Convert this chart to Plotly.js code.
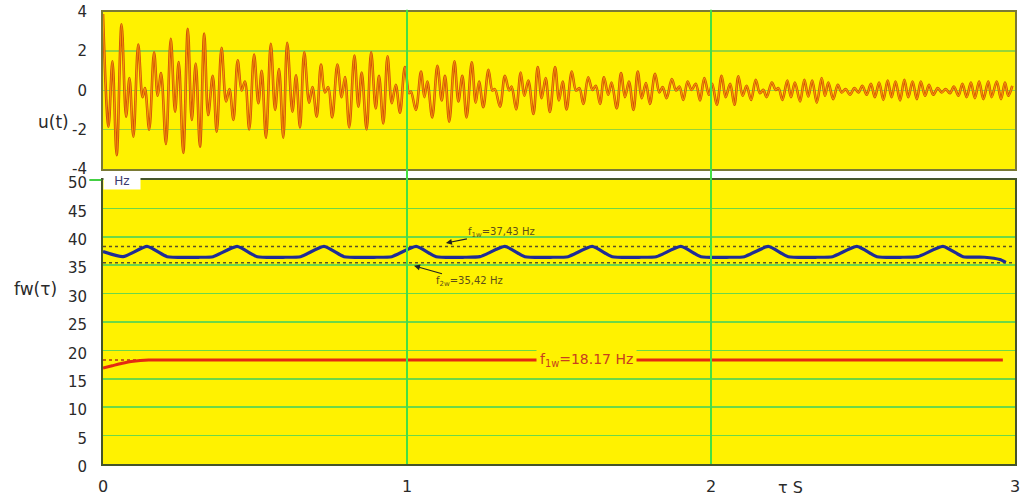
<!DOCTYPE html>
<html>
<head>
<meta charset="utf-8">
<script src="https://cdn.plot.ly/plotly-3.0.1.min.js"></script>
<style>html,body{margin:0;padding:0;background:#fff;}#chart{width:1025px;height:497px;}</style>
</head>
<body>
<div id="chart"></div>
<script>
// ---- data ----
// u(t): successive local extrema of the decaying signal (time in s, value)
const uTime = [
0.000,0.018,0.031,0.045,0.061,0.076,0.087,0.100,0.116,0.130,0.138,0.152,0.168,0.180,0.191,0.207,0.223,0.237,0.249,0.264,
0.279,0.292,0.305,0.319,0.333,0.346,0.361,0.374,0.390,0.405,0.416,0.429,0.443,0.456,0.467,0.481,0.497,0.511,0.522,0.536,
0.552,0.566,0.579,0.593,0.606,0.623,0.635,0.648,0.662,0.678,0.689,0.703,0.717,0.730,
0.741,0.754,0.771,0.785,0.796,0.810,0.827,0.840,0.851,0.867,0.882,0.897,0.908,0.922,0.936,0.950,0.963,0.977,0.993,1.007,
1.013,1.029,1.046,1.057,1.067,1.083,1.100,1.114,1.125,1.139,1.156,1.169,1.182,1.196,1.213,1.226,1.237,1.251,1.268,1.281,
1.289,1.306,1.322,1.336,1.344,1.359,1.374,1.386,1.399,1.416,1.430,1.443,1.456,1.470,
1.487,1.500,1.512,1.525,1.542,1.556,1.567,1.580,1.596,1.610,1.621,1.635,1.648,1.662,1.673,1.690,1.704,1.717,1.730,1.745,
1.759,1.772,1.786,1.799,1.816,1.830,1.841,1.854,1.871,1.885,1.896,1.909,1.923,1.936,1.950,1.964,1.978,1.993,2.004,2.019,
2.035,2.048,2.063,2.077,2.090,2.104,2.117,2.132,2.147,2.161,2.172,2.183,2.200,
2.213,2.222,2.235,2.251,2.263,2.276,2.293,2.307,2.320,2.333,2.348,2.364,2.375,2.386,2.402,2.417,2.430,2.443,2.457,2.472,
2.485,2.498,2.512,2.526,2.539,2.553,2.567,2.581,2.594,2.607,2.622,2.636,2.649,2.663,2.677,2.690,2.704,2.717,2.731,2.746,
2.759,2.772,2.786,2.799,2.814,2.827,2.841,2.855,2.868,2.882,2.896,2.912,2.923,2.940,2.954,2.967,2.978,2.991
];
const uValue = [
3.90,-1.85,1.49,-3.30,3.37,-1.33,0.63,-2.36,2.34,-0.34,0.12,-2.00,1.95,-0.27,0.89,-2.73,2.63,-1.08,1.45,-3.18,
3.15,-1.50,1.37,-2.87,2.90,-1.25,0.75,-2.10,2.17,-0.56,0.07,-1.50,1.54,0.00,0.46,-1.98,1.83,-0.65,1.00,-2.41,
2.38,-0.99,1.09,-2.41,2.43,-1.08,0.77,-1.88,1.95,-0.62,0.17,-1.33,1.32,-0.10,
0.17,-1.37,1.32,-0.34,0.68,-1.88,1.78,-0.82,0.92,-1.98,1.95,-0.91,0.75,-1.68,1.74,-0.65,0.29,-1.13,1.20,-0.14,
-0.05,-0.99,0.97,-0.34,0.46,-1.37,1.26,-0.51,0.75,-1.59,1.49,-0.56,0.75,-1.37,1.44,-0.62,0.46,-0.85,1.06,0.00,
0.07,-0.82,0.75,0.00,0.20,-0.96,0.92,-0.27,0.51,-1.20,1.20,-0.39,0.63,-1.10,
1.20,-0.51,0.46,-0.96,0.97,0.00,0.12,-0.68,0.67,0.03,0.24,-0.68,0.67,-0.22,0.41,-0.91,0.89,-0.34,0.46,-0.99,
0.97,-0.39,0.38,-0.68,0.85,-0.10,0.17,-0.39,0.58,0.00,0.20,-0.48,0.46,0.03,0.34,-0.51,0.63,-0.22,0.34,-0.73,
0.75,-0.34,0.34,-0.73,0.72,-0.27,0.24,-0.48,0.55,-0.14,0.03,-0.34,0.41,
0.03,0.12,-0.48,0.51,-0.34,0.41,-0.56,0.55,-0.31,0.51,-0.62,0.63,-0.27,0.41,-0.44,0.29,-0.10,0.07,-0.22,0.12,
-0.10,0.24,-0.22,0.34,-0.34,0.41,-0.48,0.51,-0.34,0.46,-0.51,0.55,-0.34,0.46,-0.44,0.46,-0.27,0.29,-0.22,0.12,
-0.10,0.07,-0.14,0.20,-0.27,0.34,-0.34,0.41,-0.39,0.46,-0.44,0.46,-0.34,0.46,-0.44,0.41,-0.27,0.24
];

// fw(tau): upper (blue) frequency curve
const blueTime = [0.000,0.066,0.145,0.211,0.319,0.362,0.441,0.507,0.600,0.650,0.727,0.793,0.900,0.950,1.030,1.096,1.190,1.240,
1.322,1.388,1.480,1.530,1.609,1.675,1.770,1.820,1.901,1.967,2.060,2.110,2.188,2.254,2.350,2.400,2.480,2.546,2.630,2.680,
2.763,2.829,2.900,2.950,2.970];
const blueValue = [37.4,36.5,38.3,36.5,36.4,36.5,38.3,36.5,36.4,36.5,38.3,36.5,36.4,36.5,38.3,36.5,36.4,36.5,
38.3,36.5,36.4,36.5,38.3,36.5,36.4,36.5,38.3,36.5,36.4,36.5,38.3,36.5,36.4,36.5,38.3,36.5,36.4,36.5,
38.3,36.5,36.4,36.0,35.5];

// fw(tau): lower (red) frequency curve
const redTime = [0.000,0.030,0.060,0.100,0.150,2.960];
const redValue = [16.9,17.3,17.7,18.1,18.3,18.3];

// dotted reference levels
const levelUpper = 38.3;
const levelLower = 35.42;
const levelRed = 18.3;

// axis ticks
const uTicks = [-4,-2,0,2,4];
const fTicks = [0,5,10,15,20,25,30,35,40,45,50];
const tTicks = [0,1,2,3];
const gridTimes = [1,2];

// ---- plot ----
const FONT = 'DejaVu Sans, Verdana, sans-serif';
const traces = [
  {x: uTime, y: uValue, xaxis:'x', yaxis:'y', mode:'lines', line:{color:'#D0500A', width:2.6, shape:'spline', smoothing:1}, hoverinfo:'skip'},
  {x: uTime, y: uValue, xaxis:'x', yaxis:'y', mode:'lines', line:{color:'#F89C00', width:1.1, shape:'spline', smoothing:1}, hoverinfo:'skip'},
  {x: [0,3], y: [levelUpper, levelUpper], xaxis:'x2', yaxis:'y2', mode:'lines', line:{color:'#5A5028', width:1.5, dash:'dot'}},
  {x: [0,3], y: [levelLower, levelLower], xaxis:'x2', yaxis:'y2', mode:'lines', line:{color:'#5A5028', width:1.5, dash:'dot'}},
  {x: [0,2.96], y: [levelRed, levelRed], xaxis:'x2', yaxis:'y2', mode:'lines', line:{color:'#B03A10', width:1.5, dash:'dot'}},
  {x: blueTime, y: blueValue, xaxis:'x2', yaxis:'y2', mode:'lines', line:{color:'#1F2C96', width:3.2, shape:'spline', smoothing:0.5}},
  {x: redTime, y: redValue, xaxis:'x2', yaxis:'y2', mode:'lines', line:{color:'#E42A12', width:3, shape:'spline', smoothing:0.6}}
];

const shapes = gridTimes.map(t => ({type:'line', xref:'x2', yref:'paper', x0:t, x1:t, y0:0, y1:1.005,
  line:{color:'#44E044', width:2}, layer:'above'}));
shapes.push({type:'line', xref:'paper', yref:'paper', x0:-0.015, x1:-0.002, y0:0.6283, y1:0.6283, line:{color:'#44D044', width:2}});

const layout = {
  width:1025, height:497,
  margin:{l:103, r:10, t:12, b:33},
  paper_bgcolor:'#FFFFFF', plot_bgcolor:'#FFF200',
  showlegend:false,
  font:{family:FONT, color:'#2A2A2A', size:16},
  xaxis:{domain:[0,1], anchor:'y', range:[0,3], showticklabels:false, ticks:'', showgrid:false, zeroline:false,
    showline:true, mirror:true, linecolor:'#7A7A35', linewidth:2},
  yaxis:{domain:[0.6527,1], anchor:'x', range:[-4,4], tickvals:uTicks, ticktext:uTicks.map(String), ticks:'',
    showgrid:true, gridcolor:'#96D43A', gridwidth:1.5, zeroline:false, showline:true, mirror:true,
    linecolor:'#7A7A35', linewidth:2, ticklabelstandoff:11, tickfont:{size:15, color:'#2A2A2A'}},
  xaxis2:{domain:[0,1], anchor:'y2', range:[0,3], tickvals:tTicks, ticktext:tTicks.map(String), ticks:'',
    showgrid:false, zeroline:false, showline:true, mirror:true, linecolor:'#45552A', linewidth:2,
    ticklabelstandoff:7, tickfont:{size:16, color:'#2A2A2A'}},
  yaxis2:{domain:[0,0.6283], anchor:'x2', range:[0,50], tickvals:fTicks, ticktext:fTicks.map(String), ticks:'',
    showgrid:true, gridcolor:'#6CD848', gridwidth:1.5, zeroline:false, showline:true, mirror:true,
    linecolor:'#45552A', linewidth:2, ticklabelstandoff:11, ticklabelshift:3, tickfont:{size:15, color:'#2A2A2A'}},
  shapes: shapes,
  annotations:[
    {xref:'paper', yref:'paper', x:-0.0548, y:0.7566, xanchor:'center', yanchor:'middle', text:'u(t)', showarrow:false, font:{size:17, color:'#2A2A2A'}},
    {xref:'paper', yref:'paper', x:-0.0735, y:0.387, xanchor:'center', yanchor:'middle', text:'fw(τ)', showarrow:false, font:{size:17, color:'#2A2A2A'}},
    {xref:'x2', yref:'paper', x:2.26, y:-0.051, xanchor:'center', yanchor:'middle', text:'τ S', showarrow:false, font:{size:16, color:'#2A2A2A'}},
    {xref:'paper', yref:'paper', x:0, y:0.6283, xanchor:'left', yanchor:'middle', text:'Hz', showarrow:false,
      bgcolor:'#FFFFFF', width:34, height:15, align:'center', borderpad:1, font:{size:12, color:'#3A3A6E'}},
    {xref:'x2', yref:'y2', x:1.128, y:38.9, text:'f<sub>1w</sub>=37,43 Hz', showarrow:true, ax:56, ay:-11,
      arrowhead:2, arrowsize:1, arrowwidth:1.2, arrowcolor:'#222', font:{size:10, color:'#5E4E18'}},
    {xref:'x2', yref:'y2', x:1.023, y:34.9, text:'f<sub>2w</sub>=35,42 Hz', showarrow:true, ax:56, ay:16,
      arrowhead:2, arrowsize:1, arrowwidth:1.2, arrowcolor:'#222', font:{size:10, color:'#5E4E18'}},
    {xref:'x2', yref:'y2', x:1.592, y:18.3, text:'f<sub>1w</sub>=18.17 Hz', showarrow:false, bgcolor:'#FFF200',
      borderpad:3, font:{size:14, color:'#C8401E'}}
  ]
};

Plotly.newPlot('chart', traces, layout, {staticPlot:true, displayModeBar:false});
</script>
</body>
</html>
